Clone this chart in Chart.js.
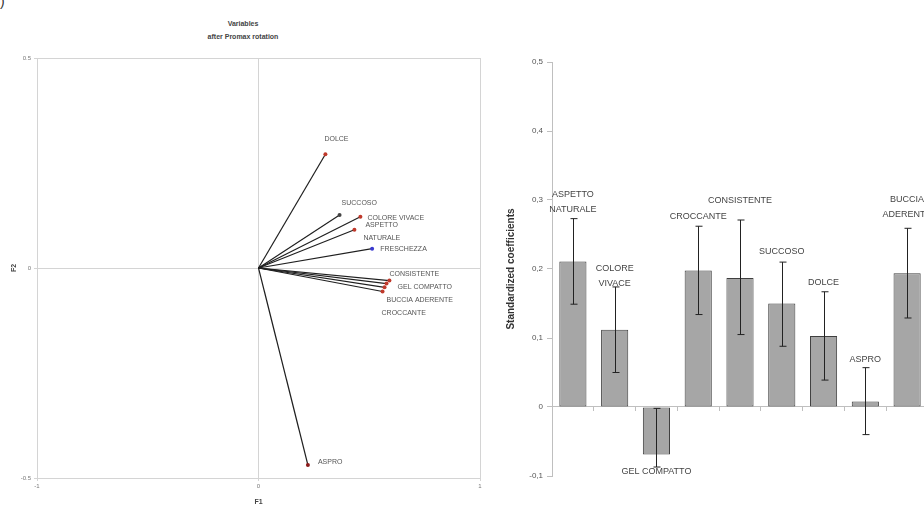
<!DOCTYPE html>
<html>
<head>
<meta charset="utf-8">
<script src="https://cdn.jsdelivr.net/npm/chart.js@4.4.1/dist/chart.umd.min.js"></script>
<style>
html, body { margin: 0; padding: 0; background: #fff; overflow: hidden; width: 924px; height: 506px; }
#sinistra { position: absolute; left: 0; top: 0; }
#destra { position: absolute; left: 500px; top: 0; }
.testo { position: absolute; font-family: "Liberation Sans", Arial, sans-serif; color: #333; white-space: nowrap; }
</style>
</head>
<body>
<div class="testo" style="left:0;top:-7px;font-size:14px;">)</div>
<div class="testo" style="left:143px;top:17px;width:200px;text-align:center;font-size:7px;line-height:13px;font-weight:bold;color:#444;">Variables<br>after Promax rotation</div>
<canvas id="sinistra" width="500" height="506"></canvas>
<canvas id="destra" width="435" height="506"></canvas>
<script>
// Dati - grafico delle variabili (F1 / F2)
const variabili = ['DOLCE', 'SUCCOSO', 'COLORE VIVACE', 'ASPETTO NATURALE', 'FRESCHEZZA', 'CONSISTENTE', 'GEL COMPATTO', 'BUCCIA ADERENTE', 'CROCCANTE', 'ASPRO'];
const f1 = [0.302, 0.366, 0.460, 0.433, 0.513, 0.591, 0.578, 0.569, 0.560, 0.223];
const f2 = [0.271, 0.126, 0.122, 0.091, 0.046, -0.030, -0.037, -0.046, -0.056, -0.469];
const ticksF1 = [-1, 0, 1];
const ticksF2 = [-0.5, 0, 0.5];

// Dati - coefficienti standardizzati
const attributi = ['ASPETTO NATURALE', 'COLORE VIVACE', 'GEL COMPATTO', 'CROCCANTE', 'CONSISTENTE', 'SUCCOSO', 'DOLCE', 'ASPRO', 'BUCCIA ADERENTE'];
const coefficienti = [0.211, 0.112, -0.069, 0.198, 0.187, 0.150, 0.103, 0.008, 0.194];
const limiteInf = [0.149, 0.050, -0.087, 0.134, 0.105, 0.088, 0.039, -0.040, 0.129];
const limiteSup = [0.273, 0.174, -0.002, 0.262, 0.271, 0.210, 0.167, 0.057, 0.259];
const ticksCoef = [-0.1, 0, 0.1, 0.2, 0.3, 0.4, 0.5];

// Stili
const coloriPunti = ['#c0392b', '#444444', '#c0392b', '#c0392b', '#3a3ad0', '#c0392b', '#c0392b', '#c0392b', '#c0392b', '#8b1a1a'];
const spostEtichette = [[-1, -15], [2, -12], [7, 1], [9, -5], [8, 0], [0, -7], [11, 4], [2, 13], [-1, 22], [10, -3]];
const distEtichetteBarre = [9, 3, 4, 10, 19, 11, 9, 8, 14];
const FONT = '"Liberation Sans", Arial, sans-serif';

Chart.defaults.font.family = FONT;
Chart.defaults.animation = false;

// Cornice ed etichette del grafico a sinistra
const pluginVariabili = {
    id: 'pluginVariabili',
    beforeDatasetsDraw(chart) {
        const a = chart.chartArea;
        const ctx = chart.ctx;
        ctx.save();
        ctx.strokeStyle = '#d4d4d4';
        ctx.lineWidth = 1;
        ctx.strokeRect(a.left + 0.5, a.top + 0.5, a.right - a.left, a.bottom - a.top);
        ctx.restore();
    },
    afterDatasetsDraw(chart) {
        const ctx = chart.ctx;
        const sx = chart.scales.x;
        const sy = chart.scales.y;
        ctx.save();
        ctx.font = '7px ' + FONT;
        ctx.fillStyle = '#555';
        ctx.textBaseline = 'middle';
        ctx.textAlign = 'left';
        variabili.forEach((nome, i) => {
            const px = sx.getPixelForValue(f1[i]) + spostEtichette[i][0];
            const py = sy.getPixelForValue(f2[i]) + spostEtichette[i][1];
            if (nome === 'ASPETTO NATURALE') {
                ctx.fillText('ASPETTO', px + 2, py);
                ctx.fillText('NATURALE', px, py + 13);
            } else {
                ctx.fillText(nome, px, py);
            }
        });
        ctx.restore();
    }
};

new Chart(document.getElementById('sinistra'), {
    type: 'scatter',
    data: {
        datasets: variabili.map((nome, i) => ({
            label: nome,
            data: [{ x: 0, y: 0 }, { x: f1[i], y: f2[i] }],
            showLine: true,
            borderColor: '#1f1f1f',
            borderWidth: 1.2,
            pointRadius: [0, 2],
            pointBackgroundColor: coloriPunti[i],
            pointBorderWidth: 0
        }))
    },
    options: {
        responsive: false,
        devicePixelRatio: 1,
        layout: { padding: { top: 58, right: 20, left: 0, bottom: 0 } },
        plugins: { legend: { display: false }, tooltip: { enabled: false } },
        scales: {
            x: {
                min: -1, max: 1,
                afterBuildTicks: s => { s.ticks = ticksF1.map(v => ({ value: v })); },
                afterFit: s => { s.height = 28; },
                grid: { color: c => c.tick && c.tick.value === 0 ? '#d4d4d4' : 'transparent', tickColor: '#d4d4d4', tickLength: 3 },
                border: { display: false },
                ticks: { font: { size: 6 }, color: '#777', padding: 2, maxRotation: 0, callback: v => String(v) },
                title: { display: true, text: 'F1', font: { size: 7, weight: 'bold' }, color: '#444', padding: { top: 2, bottom: 0 } }
            },
            y: {
                min: -0.5, max: 0.5,
                afterBuildTicks: s => { s.ticks = ticksF2.map(v => ({ value: v })); },
                afterFit: s => { s.width = 37; },
                grid: { color: c => c.tick && c.tick.value === 0 ? '#d4d4d4' : 'transparent', tickColor: '#d4d4d4', tickLength: 3 },
                border: { display: false },
                ticks: { font: { size: 6 }, color: '#777', padding: 3, callback: v => String(v) },
                title: { display: true, text: 'F2', font: { size: 7, weight: 'bold' }, color: '#444', padding: { top: 10, bottom: 0 } }
            }
        }
    },
    plugins: [pluginVariabili]
});

// Barre di errore ed etichette del grafico a destra
const pluginCoefficienti = {
    id: 'pluginCoefficienti',
    afterDatasetsDraw(chart) {
        const ctx = chart.ctx;
        const sy = chart.scales.y;
        const meta = chart.getDatasetMeta(0);
        ctx.save();
        ctx.strokeStyle = '#222';
        ctx.lineWidth = 1;
        meta.data.forEach((barra, i) => {
            const x = Math.round(barra.x) + 0.5;
            const yInf = sy.getPixelForValue(limiteInf[i]);
            const ySup = sy.getPixelForValue(limiteSup[i]);
            ctx.beginPath();
            ctx.moveTo(x, yInf);
            ctx.lineTo(x, ySup);
            ctx.moveTo(x - 3, yInf);
            ctx.lineTo(x + 4, yInf);
            ctx.moveTo(x - 3, ySup);
            ctx.lineTo(x + 4, ySup);
            ctx.stroke();
        });
        ctx.font = '9px ' + FONT;
        ctx.fillStyle = '#444';
        ctx.textAlign = 'center';
        ctx.textBaseline = 'middle';
        meta.data.forEach((barra, i) => {
            const nome = attributi[i];
            if (coefficienti[i] < 0) {
                ctx.fillText(nome, barra.x, sy.getPixelForValue(limiteInf[i]) + distEtichetteBarre[i]);
                return;
            }
            const righe = nome.split(' ');
            const base = sy.getPixelForValue(limiteSup[i]) - distEtichetteBarre[i];
            righe.forEach((r, k) => {
                ctx.fillText(r, barra.x, base - (righe.length - 1 - k) * 15);
            });
        });
        ctx.restore();
    }
};

new Chart(document.getElementById('destra'), {
    type: 'bar',
    data: {
        labels: attributi,
        datasets: [{
            data: coefficienti,
            backgroundColor: '#a6a6a6',
            borderColor: '#3f3f3f',
            borderWidth: 1,
            borderSkipped: false,
            categoryPercentage: 1,
            barPercentage: 0.65
        }]
    },
    options: {
        responsive: false,
        devicePixelRatio: 1,
        layout: { padding: { top: 62, right: 7, left: 0, bottom: 30 } },
        plugins: { legend: { display: false }, tooltip: { enabled: false } },
        scales: {
            x: {
                position: { y: 0 },
                grid: { drawOnChartArea: false, color: '#bfbfbf', tickLength: 4 },
                border: { color: '#bfbfbf' },
                ticks: { display: false }
            },
            y: {
                min: -0.1, max: 0.5,
                afterBuildTicks: s => { s.ticks = ticksCoef.map(v => ({ value: v })); },
                afterFit: s => { s.width = 52; },
                grid: { drawOnChartArea: false, color: '#bfbfbf', tickLength: 5 },
                border: { color: '#bfbfbf' },
                ticks: {
                    font: { size: 8 }, color: '#555', padding: 4,
                    callback: v => Math.abs(v) < 1e-9 ? '0' : v.toFixed(1).replace('.', ',')
                },
                title: { display: true, text: 'Standardized coefficients', font: { size: 10, weight: 'bold' }, color: '#333', padding: { top: 5, bottom: 0 } }
            }
        }
    },
    plugins: [pluginCoefficienti]
});
</script>
</body>
</html>
